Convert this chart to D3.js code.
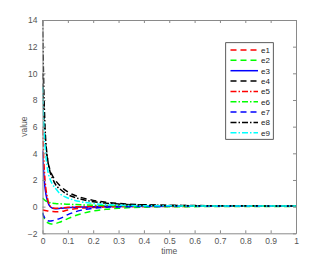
<!DOCTYPE html>
<html><head><meta charset="utf-8">
<script src="https://cdn.jsdelivr.net/npm/d3@7"></script>
<style>body{margin:0;background:#fff}svg{display:block}</style>
</head><body><svg id="c" width="327" height="262"></svg>
<script>
const t  = [0, 0.005, 0.01, 0.02, 0.03, 0.04, 0.05, 0.07, 0.1, 0.15, 0.2, 0.25, 0.3, 0.4, 0.5, 0.6, 0.8, 1.0];
const e1 = [-0.25,-0.27,-0.29,-0.32,-0.35,-0.37,-0.38,-0.37,-0.25,-0.12,-0.06,-0.03,-0.01,0,0.01,0.02,0.02,0.02];
const e2 = [-0.5,-0.8,-1.0,-1.2,-1.28,-1.3,-1.28,-1.15,-0.9,-0.55,-0.33,-0.2,-0.12,-0.04,-0.01,0,0.01,0.01];
const e3 = [4.2,2.5,1.4,0.4,0.0,-0.12,-0.15,-0.13,-0.08,-0.03,0,0.02,0.02,0.03,0.03,0.03,0.03,0.03];
const e4 = [10,7.2,5.2,3.5,2.75,2.3,2.0,1.55,1.1,0.7,0.47,0.33,0.24,0.14,0.1,0.08,0.06,0.05];
const e5 = [5.8,3.5,2.0,0.6,0.05,-0.1,-0.13,-0.1,-0.05,0,0.02,0.03,0.03,0.03,0.03,0.03,0.03,0.03];
const e6 = [0.65,0.55,0.47,0.36,0.3,0.26,0.24,0.21,0.18,0.14,0.1,0.08,0.07,0.05,0.04,0.04,0.04,0.04];
const e7 = [-0.45,-0.7,-0.9,-1.05,-1.08,-1.05,-1.0,-0.88,-0.6,-0.28,-0.12,-0.05,-0.02,0.01,0.02,0.02,0.02,0.02];
const e8 = [14,9,6,3.6,2.6,2.1,1.7,1.3,0.9,0.57,0.37,0.26,0.19,0.12,0.09,0.07,0.06,0.05];
const e9 = [9,6.2,4.6,2.8,2.05,1.65,1.4,0.95,0.65,0.37,0.23,0.16,0.11,0.07,0.06,0.05,0.05,0.05];
const names = ["e1","e2","e3","e4","e5","e6","e7","e8","e9"];
const seriesVals = [e1,e2,e3,e4,e5,e6,e7,e8,e9];
const colors = ["#ff0000","#00ff00","#0000ff","#000000","#ff0000","#00ff00","#0000ff","#000000","#00ffff"];
const dashes = ["6,4","6,4",null,"6,4","6,2,1.5,2","6,2,1.5,2","6,4","6,2,1.5,2","6,2,1.5,2"];
const xTicks = [0,0.1,0.2,0.3,0.4,0.5,0.6,0.7,0.8,0.9,1];
const yTicks = [-2,0,2,4,6,8,10,12,14];

const svg = d3.select("#c");
const L=42.5, R=296, T=20, B=233.3;
const x = d3.scaleLinear().domain([0,1]).range([L,R]);
const y = d3.scaleLinear().domain([-2,14]).range([B,T]);
const font = "'Liberation Sans', Arial, sans-serif";

svg.append("clipPath").attr("id","pc").append("rect")
  .attr("x",L).attr("y",T).attr("width",R-L).attr("height",B-T);

const line = d3.line().x((d,i)=>x(t[i])).y(d=>y(d)).curve(d3.curveMonotoneX);
const g = svg.append("g").attr("clip-path","url(#pc)");
seriesVals.forEach((vals,k)=>{
  g.append("path").attr("d",line(vals)).attr("fill","none")
   .attr("stroke",colors[k]).attr("stroke-width",1.5)
   .attr("stroke-dasharray",dashes[k]);
});

const axCol = "#8a8a8a";
function styleAxis(sel){
  sel.select(".domain").attr("stroke",axCol);
  sel.selectAll(".tick line").attr("stroke",axCol);
  sel.selectAll("text").attr("fill","#555").style("font-family",font).style("font-size","8.5px");
}
svg.append("g").attr("transform",`translate(0,${B})`)
  .call(d3.axisBottom(x).tickValues(xTicks).tickSize(-3).tickSizeOuter(0).tickPadding(5).tickFormat(d3.format("~g")))
  .call(styleAxis);
svg.append("g").attr("transform",`translate(0,${T})`)
  .call(d3.axisTop(x).tickValues(xTicks).tickSize(-3).tickSizeOuter(0).tickFormat(""))
  .call(styleAxis);
svg.append("g").attr("transform",`translate(${L},0)`)
  .call(d3.axisLeft(y).tickValues(yTicks).tickSize(-3).tickSizeOuter(0).tickPadding(5))
  .call(styleAxis);
svg.append("g").attr("transform",`translate(${R},0)`)
  .call(d3.axisRight(y).tickValues(yTicks).tickSize(-3).tickSizeOuter(0).tickFormat(""))
  .call(styleAxis);

svg.append("text").attr("x",(L+R)/2).attr("y",254).attr("text-anchor","middle")
  .style("font-family",font).style("font-size","8.5px").attr("fill","#555").text("time");
svg.append("text").attr("transform",`translate(27,${(T+B)/2}) rotate(-90)`).attr("text-anchor","middle")
  .style("font-family",font).style("font-size","8.5px").attr("fill","#555").text("value");

// legend
const lg = svg.append("g");
lg.append("rect").attr("x",225.7).attr("y",42.7).attr("width",47.6).attr("height",96.6)
  .attr("fill","#fff").attr("stroke","#333").attr("stroke-width",0.8);
names.forEach((n,k)=>{
  const yy = 50 + k*10.35;
  lg.append("line").attr("x1",230.5).attr("x2",258).attr("y1",yy).attr("y2",yy)
    .attr("stroke",colors[k]).attr("stroke-width",1.5).attr("stroke-dasharray",dashes[k]);
  lg.append("text").attr("x",261).attr("y",yy+3).style("font-family",font).style("font-size","8px")
    .attr("fill","#222").text(n);
});
</script></body></html>
